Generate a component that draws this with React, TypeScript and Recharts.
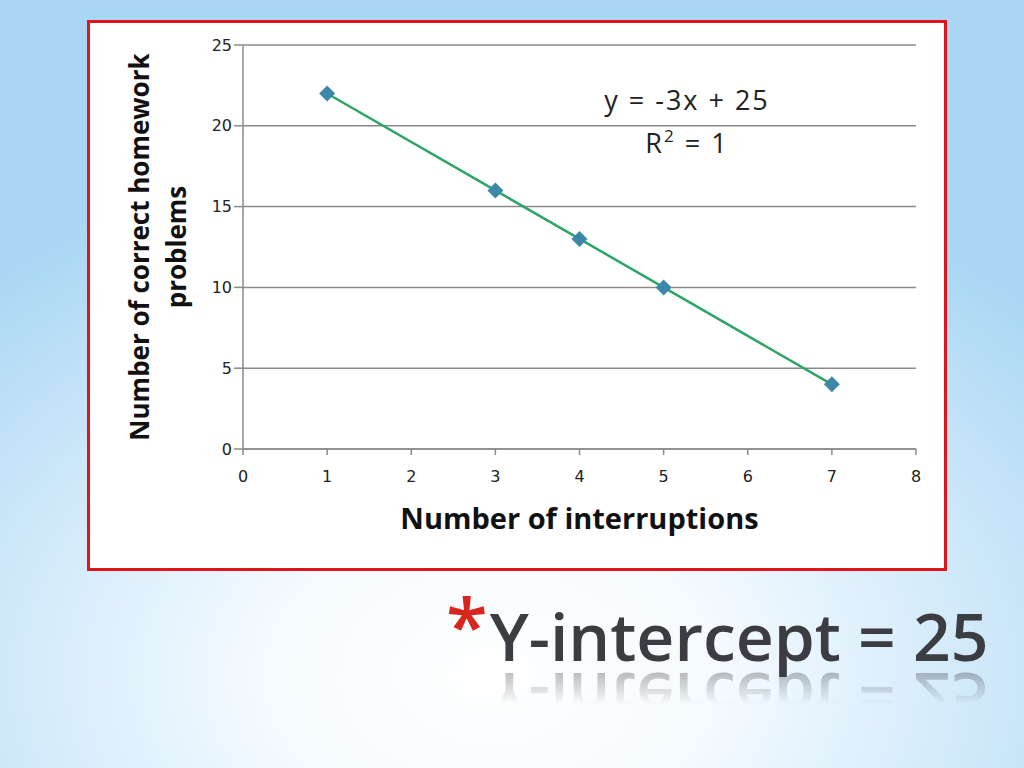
import type { ReactNode } from "react";
import {
	LineChart,
	Line,
	XAxis,
	YAxis,
	CartesianGrid,
} from "recharts";

const interruptions = [1, 3, 4, 5, 7];
const correctProblems = [22, 16, 13, 10, 4];
const xTicks = [0, 1, 2, 3, 4, 5, 6, 7, 8];
const yTicks = [0, 5, 10, 15, 20, 25];
const yTitleLines = ["Number of correct homework", "problems"];
const xTitle = "Number of interruptions";
const equation = "y = -3x + 25";
const heading = "Y-intercept = 25";

const chartData = interruptions.map((x, i) => ({ x, y: correctProblems[i] }));

const titleFont = "'Open Sans', 'Noto Sans', sans-serif";
const tickStyle = { fontSize: 16, fill: "#222", fontFamily: "'DejaVu Sans', sans-serif" };

const Diamond = (props: any): ReactNode => {
	const { cx, cy, index } = props;
	if (cx == null || cy == null) return null;
	const r = 8;
	return (
		<path
			key={`d-${index}`}
			d={`M${cx},${cy - r} L${cx + r},${cy} L${cx},${cy + r} L${cx - r},${cy} Z`}
			fill="#3d88a8"
		/>
	);
};

const YTitle = (props: any): ReactNode => {
	const { viewBox } = props;
	const cy = viewBox.y + viewBox.height / 2;
	return (
		<g>
			{yTitleLines.map((line, i) => {
				const x = viewBox.x - 64 + i * 37;
				return (
					<text
						key={line}
						x={x}
						y={cy}
						transform={`rotate(-90, ${x}, ${cy})`}
						textAnchor="middle"
						dominantBaseline="central"
						fontFamily={titleFont}
						fontWeight={700}
						fontSize={26}
						fill="#111"
					>
						{line}
					</text>
				);
			})}
		</g>
	);
};

export const App = (): ReactNode => {
	return (
		<div
			style={{
				position: "fixed",
				left: 0,
				top: 0,
				width: 1024,
				height: 768,
				overflow: "hidden",
				background:
					"radial-gradient(ellipse 75% 70% at 48% 88%, #ffffff 0%, #f4fafe 30%, #d4ebfa 60%, #a8d6f4 100%)",
			}}
		>
			<div
				style={{
					position: "absolute",
					left: 87,
					top: 20,
					width: 860,
					height: 551,
					boxSizing: "border-box",
					border: "3px solid #e0141b",
					background: "#ffffff",
				}}
			/>
			<div style={{ position: "absolute", left: 0, top: 0 }}>
				<LineChart
					width={1024}
					height={768}
					data={chartData}
					margin={{ top: 45, right: 108, bottom: 289, left: 203 }}
				>
					<CartesianGrid vertical={false} stroke="#8a8a8a" strokeWidth={1.5} />
					<XAxis
						type="number"
						dataKey="x"
						domain={[0, 8]}
						ticks={xTicks}
						height={30}
						stroke="#8a8a8a"
						strokeWidth={1.5}
						tickSize={6}
						tick={tickStyle}
						tickMargin={16}
						label={{
							value: xTitle,
							position: "bottom",
							offset: 29,
							style: {
								fontFamily: titleFont,
								fontWeight: 700,
								fontSize: 29,
								fill: "#111",
							},
						}}
					/>
					<YAxis
						type="number"
						domain={[0, 25]}
						ticks={yTicks}
						width={40}
						stroke="#8a8a8a"
						strokeWidth={1.5}
						tickSize={9}
						tick={tickStyle}
						tickMargin={2}
						label={<YTitle />}
					/>
					<Line
						type="linear"
						dataKey="y"
						stroke="#2ea46a"
						strokeWidth={2.5}
						dot={Diamond}
						activeDot={false}
						isAnimationActive={false}
					/>
				</LineChart>
			</div>
			<div
				style={{
					position: "absolute",
					left: 587,
					top: 78,
					width: 200,
					textAlign: "center",
					fontFamily: "'Open Sans', 'Noto Sans', sans-serif",
					fontSize: 27,
					letterSpacing: 2,
					color: "#222",
					lineHeight: "43px",
				}}
			>
				<div>{equation}</div>
				<div>
					R<sup style={{ fontSize: 17, verticalAlign: "11px", lineHeight: 0 }}>2</sup> = 1
				</div>
			</div>
			<div
				style={{
					position: "absolute",
					left: 446,
					top: 582,
					whiteSpace: "nowrap",
					fontFamily: "'Open Sans', 'Noto Sans', sans-serif",
					fontWeight: 600,
					fontSize: 66,
					lineHeight: "84px",
					color: "#3b3d42",
					WebkitBoxReflect:
						"below -20px linear-gradient(transparent 50%, rgba(255,255,255,0.5))",
				} as any}
			>
				<span style={{ color: "#d8261c", fontSize: 76, verticalAlign: "8px", marginRight: 2 }}>*</span>
				{heading}
			</div>
		</div>
	);
};

export default App;
